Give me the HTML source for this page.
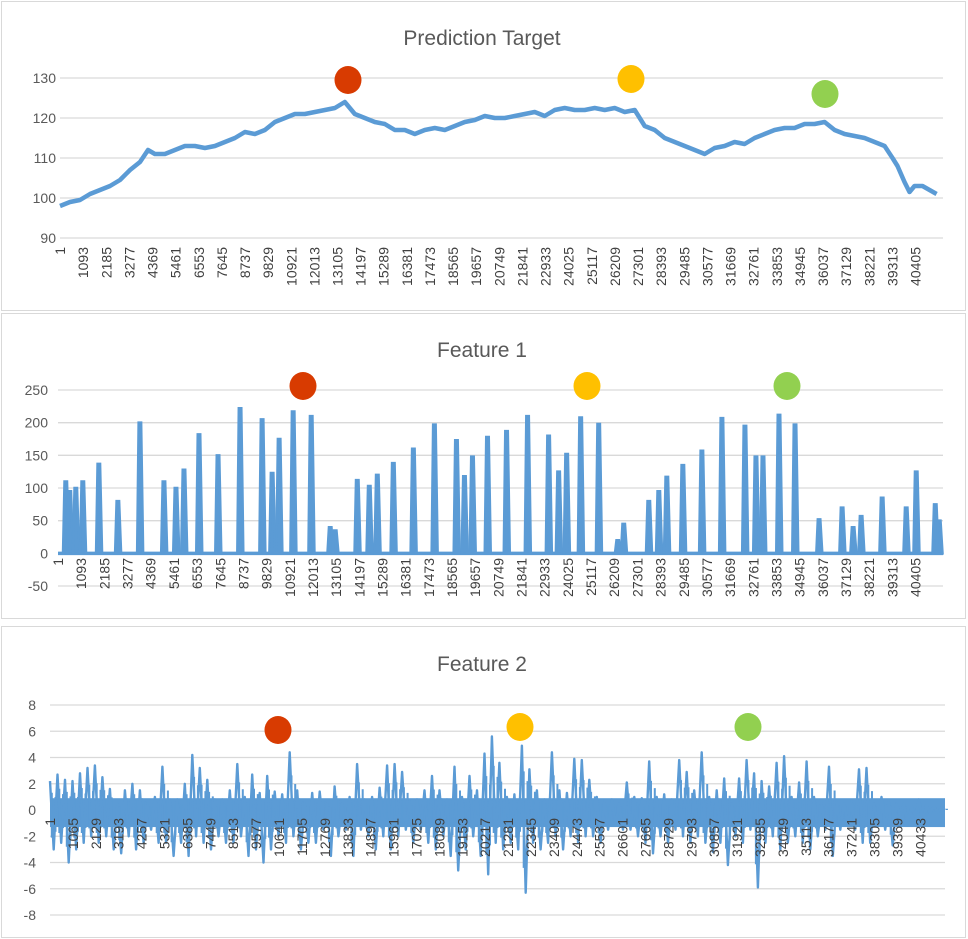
<!DOCTYPE html>
<html><head><meta charset="utf-8"><style>
body{margin:0;background:#fff;}
svg{display:block;font-family:"Liberation Sans",sans-serif;}
</style></head><body>
<svg id="chart" width="968" height="939" xmlns="http://www.w3.org/2000/svg">
<rect x="1.5" y="1.5" width="964" height="309" fill="#fff" stroke="#d9d9d9"/>
<rect x="1.5" y="313.5" width="964" height="305" fill="#fff" stroke="#d9d9d9"/>
<rect x="1.5" y="626.5" width="964" height="311" fill="#fff" stroke="#d9d9d9"/>
<text x="482" y="45" font-size="21" fill="#595959" text-anchor="middle">Prediction Target</text>
<text x="482" y="357" font-size="21" fill="#595959" text-anchor="middle">Feature 1</text>
<text x="482" y="671" font-size="21" fill="#595959" text-anchor="middle">Feature 2</text>
<g id="g1"></g><g id="g2"></g><g id="g3"></g>
</svg>
<script>
// ---- Prediction Target data (sample index, value) ----
const targetIdx = [0,472,944,1416,1888,2360,2832,3304,3776,4154,4484,4956,5428,5900,6372,6844,7316,7788,8260,8732,9204,9676,10148,10620,11092,11564,12036,12508,12980,13452,13924,14396,14868,15340,15812,16284,16756,17228,17700,18172,18644,19116,19588,20060,20532,21004,21476,21948,22420,22892,23364,23836,24308,24780,25252,25724,26196,26668,27140,27612,28084,28556,29028,29500,29972,30444,30916,31388,31860,32332,32804,33276,33748,34220,34692,35164,35636,36108,36580,37052,37524,37996,38468,38940,39317,39553,39884,40120,40356,40734,41400];
const targetVal = [98,99,99.5,101,102,103,104.5,107,109,112,111,111,112,113,113,112.5,113,114,115,116.5,116,117,119,120,121,121,121.5,122,122.5,124,121,120,119,118.5,117,117,116,117,117.5,117,118,119,119.5,120.5,120,120,120.5,121,121.5,120.5,122,122.5,122,122,122.5,122,122.5,121.5,122,118,117,115,114,113,112,111,112.5,113,114,113.5,115,116,117,117.5,117.5,118.5,118.5,119,117,116,115.5,115,114,113,110,108,104,101.5,103,103,101];
const targetTicks = [90,100,110,120,130];
// ---- Feature 1 spikes ----
const f1Idx = [378,566,850,1180,1935,2832,3870,5003,5570,5947,6655,7552,8590,9629,10101,10431,11092,11942,12838,13074,14113,14679,15057,15812,16756,17747,18786,19163,19541,20249,21146,22137,23128,23600,23978,24638,25488,26385,26668,27848,28320,28698,29453,30350,31294,32379,32898,33229,33984,34739,35872,36958,37477,37854,38845,39978,40450,41347,41536];
const f1Val = [110,95,100,110,137,80,200,110,100,128,182,150,222,205,123,175,217,210,40,35,112,103,120,138,160,197,173,118,148,178,187,210,180,125,152,208,198,20,45,80,95,117,135,157,207,195,148,148,212,197,52,70,40,57,85,70,125,75,50];
const f1Ticks = [-50,0,50,100,150,200,250];
// ---- Feature 2 envelope per bin (348 samples each) ----
const f2Hi = [2.2,2.7,2.3,2.2,2.8,3.2,3.4,2.5,1.6,0.5,1.5,2,1.5,0.5,1,3.3,0.8,0.8,2,4.2,3.2,2.3,0.8,0.8,1.5,3.5,1,2.7,1.3,2.6,1.4,1.2,4.4,1.5,0.5,1.3,1.4,0.5,1.8,0.5,1,3.5,0.8,1,1.7,3.4,3.5,2.9,0.7,0.8,1.5,2.6,1.5,0.8,3.3,1,2.6,1.5,4.3,5.6,3.6,1,1.2,4.9,3.1,1.5,0.8,4.4,1.5,1.3,3.9,3.8,2.3,1,0.7,0.8,0.5,2.1,1,0.9,3.7,1,1.2,0.8,3.8,2.9,1.5,4.4,1,1.5,2.4,0.5,2.4,3.8,2.8,2.2,1.8,3.6,4.1,1,2.1,3.7,1,0.5,3.3,0.6,0.5,0.7,3.1,3.2,0.5,1,0.6,0.5,0.5,0.3,0.8,0.4,0.3,0.2];
const f2Lo = [-3,-2.5,-4,-3,-2.5,-2,-2.5,-2,-3,-3.3,-2,-3,-2.5,-1.5,-2.5,-2.5,-3.5,-2.5,-3.5,-2,-2.5,-3,-2,-2.5,-2.5,-2,-3.5,-3,-4,-3,-2,-2.5,-2,-3,-2.5,-2.5,-1.5,-3.5,-2,-1.5,-3.5,-1.5,-2,-3,-2,-3,-2,-1.5,-2.5,-1.5,-2.5,-3,-2,-3.5,-4.6,-3,-2,-3.5,-4.9,-2.5,-3,-2.5,-3,-6.3,-2.5,-3,-2.5,-2,-3,-2,-2.5,-2,-2,-2.5,-1.5,-1,-1.5,-1.5,-2,-2.5,-3.3,-2,-2.5,-1.5,-2,-2.5,-2,-2.5,-3.2,-2.5,-4.2,-2,-2.5,-1.5,-5.9,-2.5,-2,-3,-2.5,-2,-2.5,-3,-2,-1.5,-3.5,-1.5,-1,-1.5,-2.5,-2.5,-1,-1.5,-2.7,-0.5,-1,-0.5,-1,-0.3,-0.2,0];
const f2Ticks = [-8,-6,-4,-2,0,2,4,6,8];
const f2BinSize = 348;
const labelStep1 = 1092, labelStep2 = 1064;

const NS = "http://www.w3.org/2000/svg";
const BLUE = "#5b9bd5";
function mk(tag, attrs, parent, text) {
  const e = document.createElementNS(NS, tag);
  for (const k in attrs) e.setAttribute(k, attrs[k]);
  if (text !== undefined) e.textContent = text;
  parent.appendChild(e);
  return e;
}
function panel(g, cfg) {
  const sx = i => cfg.x0 + (i / cfg.N) * (cfg.x1 - cfg.x0);
  const sy = v => cfg.yTop + (cfg.vMax - v) / (cfg.vMax - cfg.vMin) * (cfg.yBot - cfg.yTop);
  cfg.ticks.forEach(t => {
    const l = mk("line", {x1: cfg.x0, x2: cfg.x1, y1: sy(t), y2: sy(t), stroke: "#d9d9d9", "stroke-width": 1.3}, g);
    
    
    const tx = mk("text", {x: cfg.labX, y: sy(t) + 5, "font-size": 14, fill: "#595959", "text-anchor": "end"}, g, String(t));
    
    
  });
  return {sx, sy};
}
function xLabels(g, sx, step, count, yTop) {
  for (let k = 0; k < count; k++) {
    const idx = 1 + k * step;
    const x = sx(idx) + 5;
    const t = mk("text", {x: 0, y: 0, "font-size": 14, fill: "#404040", "text-anchor": "end", transform: `translate(${x},${yTop}) rotate(-90)`}, g, String(idx));
    
    
  }
}
function dot(g, x, y, color, name) {
  const c = mk("ellipse", {cx: x, cy: y, rx: 13.5, ry: 14, fill: color}, g);
  
  
}

// Panel 1
const g1 = document.getElementById("g1");
const p1 = panel(g1, {x0: 60, x1: 943, N: 41700, yTop: 78, yBot: 238, vMax: 130, vMin: 90, ticks: targetTicks, labX: 56});
xLabels(g1, p1.sx, labelStep1, 38, 247);
let d = targetIdx.map((i, k) => (k ? "L" : "M") + p1.sx(i).toFixed(1) + "," + p1.sy(targetVal[k]).toFixed(1)).join("");
const tl = mk("path", {d: d, fill: "none", stroke: BLUE, "stroke-width": 4.5, "stroke-linejoin": "round"}, g1);


dot(g1, 348, 80, "#d83b01", "marker-red");
dot(g1, 631, 79, "#ffc000", "marker-orange");
dot(g1, 825, 94, "#92d050", "marker-green");

// Panel 2
const g2 = document.getElementById("g2");
const p2 = panel(g2, {x0: 58, x1: 943, N: 41700, yTop: 390, yBot: 586, vMax: 250, vMin: -50, ticks: f1Ticks, labX: 48});
xLabels(g2, p2.sx, labelStep1, 38, 558);
const base = mk("line", {x1: p2.sx(0), x2: p2.sx(41700), y1: p2.sy(0), y2: p2.sy(0), stroke: BLUE, "stroke-width": 3.5}, g2);


f1Idx.forEach((i, k) => {
  const x = p2.sx(i), y0 = p2.sy(0), y1 = p2.sy(f1Val[k]);
  const s = mk("path", {d: `M${x-3},${y0}L${x-1.5},${y1}L${x+1},${y1}L${x+3},${y0}Z`, fill: BLUE, stroke: BLUE, "stroke-width": 2.5}, g2);
  
  
});
dot(g2, 303, 386, "#d83b01", "marker-red");
dot(g2, 587, 386, "#ffc000", "marker-orange");
dot(g2, 787, 386, "#92d050", "marker-green");

// Panel 3
const g3 = document.getElementById("g3");
const p3 = panel(g3, {x0: 50, x1: 945, N: 41580, yTop: 705, yBot: 915, vMax: 8, vMin: -8, ticks: f2Ticks, labX: 36});
const mid = mk("rect", {x: 50, y: p3.sy(0.9), width: 895, height: p3.sy(-1.3) - p3.sy(0.9), fill: BLUE}, g3);


let d3 = "", d4 = "";
f2Hi.forEach((h, k) => {
  const xa = p3.sx(k * f2BinSize), xb = p3.sx(k * f2BinSize + f2BinSize / 2);
  d3 += (k ? "L" : "M") + xa.toFixed(1) + "," + p3.sy(h).toFixed(1) + "L" + xb.toFixed(1) + "," + p3.sy(f2Lo[k]).toFixed(1);
  d4 += "M" + (xa + 1.8).toFixed(1) + "," + p3.sy(h * 0.6).toFixed(1) + "V" + p3.sy(f2Lo[k] * 0.7).toFixed(1);
  d4 += "M" + (xb + 1.8).toFixed(1) + "," + p3.sy(h * 0.45).toFixed(1) + "V" + p3.sy(f2Lo[k] * 0.55).toFixed(1);
});
const f2b = mk("path", {d: d4, fill: "none", stroke: BLUE, "stroke-width": 2}, g3);


const f2l = mk("path", {d: d3, fill: "none", stroke: BLUE, "stroke-width": 2.4, "stroke-linejoin": "round"}, g3);


xLabels(g3, p3.sx, labelStep2, 39, 818);
dot(g3, 278, 730, "#d83b01", "marker-red");
dot(g3, 520, 727, "#ffc000", "marker-orange");
dot(g3, 748, 727, "#92d050", "marker-green");
</script>
</body></html>
